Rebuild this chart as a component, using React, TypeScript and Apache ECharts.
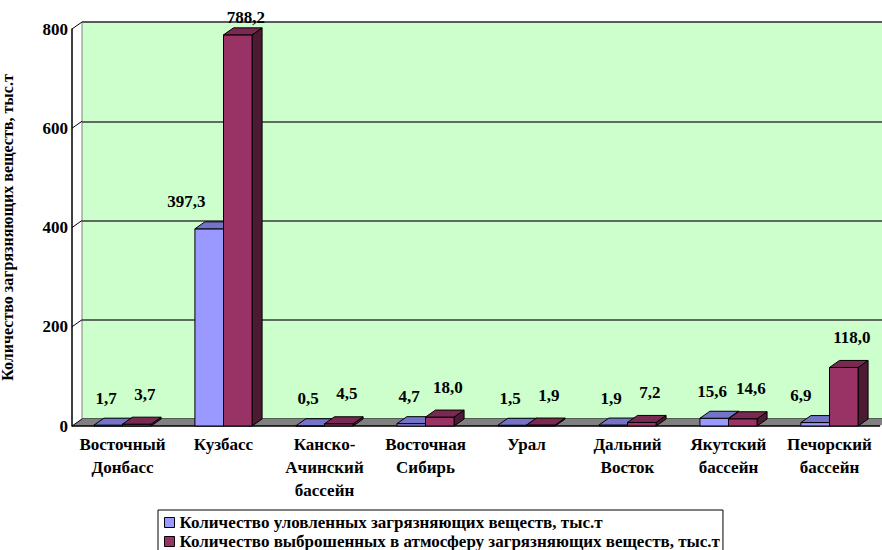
import React, { useEffect, useRef } from "react";
import * as echarts from "echarts";

// Coal basins and pollutant amounts, thousand tonnes
const categories = [
  "Восточный\nДонбасс",
  "Кузбасс",
  "Канско-\nАчинский\nбассейн",
  "Восточная\nСибирь",
  "Урал",
  "Дальний\nВосток",
  "Якутский\nбассейн",
  "Печорский\nбассейн",
];
const captured = [1.7, 397.3, 0.5, 4.7, 1.5, 1.9, 15.6, 6.9];
const emitted = [3.7, 788.2, 4.5, 18.0, 1.9, 7.2, 14.6, 118.0];
const yTicks = [0, 200, 400, 600, 800];
const seriesNames = [
  "Количество уловленных загрязняющих веществ, тыс.т",
  "Количество выброшенных в атмосферу загрязняющих веществ, тыс.т",
];
const yTitle = "Количество загрязняющих веществ, тыс.т";

const FONT = "Liberation Serif";
// pseudo-3D depth offset of the back plane
const DX = 10;
const DY = -7;
const PALETTE = [
  { front: "#9999FF", top: "#7373C8", side: "#333366" },
  { front: "#993366", top: "#7A2952", side: "#4D1A33" },
];

const fmt = (v: number) => v.toFixed(1).replace(".", ",");

function makeBar(kind: number) {
  return (params: any, api: any) => {
    const i = api.value(0);
    const v = api.value(1);
    const base = api.coord([i, 0]);
    const top = api.coord([i, v]);
    const band = api.size([1, 0])[0];
    const w = band * 0.283;
    const x0 = kind === 0 ? base[0] - w : base[0];
    const x1 = x0 + w;
    const ty = top[1];
    const by = base[1];
    const pal = PALETTE[kind];
    const children: any[] = [
      {
        type: "polygon",
        shape: { points: [[x1, ty], [x1 + DX, ty + DY], [x1 + DX, by + DY], [x1, by]] },
        style: { fill: pal.side, stroke: "#000", lineWidth: 1 },
      },
      {
        type: "rect",
        shape: { x: x0, y: ty, width: w, height: by - ty },
        style: { fill: pal.front, stroke: "#000", lineWidth: 1 },
      },
      {
        type: "polygon",
        shape: { points: [[x0, ty], [x1, ty], [x1 + DX, ty + DY], [x0 + DX, ty + DY]] },
        style: { fill: pal.top, stroke: "#000", lineWidth: 1 },
      },
    ];
    let lx: number;
    let ly: number;
    let align = "center";
    if (kind === 0) {
      ly = ty - 27;
      lx = x0 + w / 2 - 2;
      const redTop = api.coord([i, emitted[i]])[1];
      if (redTop < ly + 8) {
        // neighbouring tall column: keep the label clear of it
        lx = x1 - 18;
        align = "right";
      }
    } else {
      ly = Math.max(ty - 30, 17);
      lx = x0 + w / 2 + 8;
    }
    children.push({
      type: "text",
      x: lx,
      y: ly,
      style: {
        text: fmt(v),
        align,
        verticalAlign: "middle",
        fontFamily: FONT,
        fontWeight: "bold",
        fontSize: 17,
        fill: "#000",
      },
    });
    return { type: "group", children };
  };
}

// floor slab and the diagonal edges of the left wall
function renderFrame(params: any, api: any) {
  const cs = params.coordSys;
  const xl = cs.x;
  const xr = cs.x + cs.width;
  const children: any[] = [];
  const y0 = api.coord([0, 0])[1];
  children.push({
    type: "polygon",
    shape: { points: [[xl, y0], [xr, y0], [xr + DX, y0 + DY], [xl + DX, y0 + DY]] },
    style: { fill: "#808080", stroke: "none" },
  });
  children.push({
    type: "line",
    shape: { x1: xl, y1: y0, x2: xr, y2: y0 },
    style: { stroke: "#000", lineWidth: 1.5 },
  });
  yTicks.forEach((t) => {
    const y = api.coord([0, t])[1];
    children.push({
      type: "line",
      shape: { x1: xl, y1: y, x2: xl + DX, y2: y + DY },
      style: { stroke: "#000", lineWidth: 1 },
    });
  });
  return { type: "group", children };
}

export default function App() {
  const ref = useRef<HTMLDivElement>(null);
  useEffect(() => {
    if (!ref.current) return;
    const chart = echarts.init(ref.current, null, { renderer: "svg" });
    const yMax = yTicks[yTicks.length - 1];
    const gridFront = { left: 72, top: 29, width: 808, height: 397 };
    const option: any = {
      animation: false,
      backgroundColor: "#ffffff",
      grid: [
        { ...gridFront, outerBoundsMode: "none", containLabel: false },
        {
          left: gridFront.left + DX,
          top: gridFront.top + DY,
          width: gridFront.width,
          height: gridFront.height,
          outerBoundsMode: "none",
          containLabel: false,
          show: true,
          backgroundColor: "#CCFFCC",
          borderColor: "#808080",
          borderWidth: 1,
        },
      ],
      xAxis: [
        {
          type: "category",
          gridIndex: 0,
          data: categories,
          axisLine: { show: false },
          axisTick: { show: false },
          axisLabel: {
            interval: 0,
            margin: 7,
            color: "#000",
            fontFamily: FONT,
            fontWeight: "bold",
            fontSize: 17,
            lineHeight: 23,
            verticalAlign: "top",
          },
        },
        {
          type: "category",
          gridIndex: 1,
          data: categories,
          show: false,
        },
      ],
      yAxis: [
        {
          type: "value",
          gridIndex: 0,
          min: 0,
          max: yMax,
          interval: 200,
          name: yTitle,
          nameLocation: "middle",
          nameGap: 57,
          nameTextStyle: {
            color: "#000",
            fontFamily: FONT,
            fontWeight: "bold",
            fontSize: 16,
          },
          axisLine: { show: true, lineStyle: { color: "#000", width: 1.5 } },
          axisTick: { show: false },
          splitLine: { show: false },
          axisLabel: {
            margin: 4,
            color: "#000",
            fontFamily: FONT,
            fontWeight: "bold",
            fontSize: 17,
          },
        },
        {
          type: "value",
          gridIndex: 1,
          min: 0,
          max: yMax,
          interval: 200,
          axisLine: { show: false },
          axisTick: { show: false },
          axisLabel: { show: false },
          splitLine: { show: true, lineStyle: { color: "#3A3A3A", width: 1.5 } },
        },
      ],
      legend: {
        left: 158,
        top: 510,
        height: 60,
        orient: "vertical",
        itemGap: 2,
        itemWidth: 10,
        itemHeight: 10,
        icon: "rect",
        padding: [4, 3, 8, 6],
        borderColor: "#000",
        borderWidth: 1,
        backgroundColor: "#fff",
        itemStyle: { borderColor: "#000", borderWidth: 1 },
        textStyle: {
          color: "#000",
          fontFamily: FONT,
          fontWeight: "bold",
          fontSize: 17,
        },
        data: seriesNames,
      },
      series: [
        {
          type: "custom",
          name: "frame",
          xAxisIndex: 0,
          yAxisIndex: 0,
          renderItem: renderFrame,
          data: [[0, 0]],
          z: 1,
          silent: true,
        },
        {
          type: "custom",
          name: seriesNames[0],
          xAxisIndex: 0,
          yAxisIndex: 0,
          itemStyle: { color: PALETTE[0].front },
          renderItem: makeBar(0),
          encode: { x: 0, y: 1 },
          data: captured.map((v, i) => [i, v]),
          z: 3,
        },
        {
          type: "custom",
          name: seriesNames[1],
          xAxisIndex: 0,
          yAxisIndex: 0,
          itemStyle: { color: PALETTE[1].front },
          renderItem: makeBar(1),
          encode: { x: 0, y: 1 },
          data: emitted.map((v, i) => [i, v]),
          z: 4,
        },
      ],
    };
    chart.setOption(option);
    return () => chart.dispose();
  }, []);
  return (
    <div
      ref={ref}
      style={{ position: "fixed", left: 0, top: 0, width: 882, height: 550 }}
    />
  );
}
